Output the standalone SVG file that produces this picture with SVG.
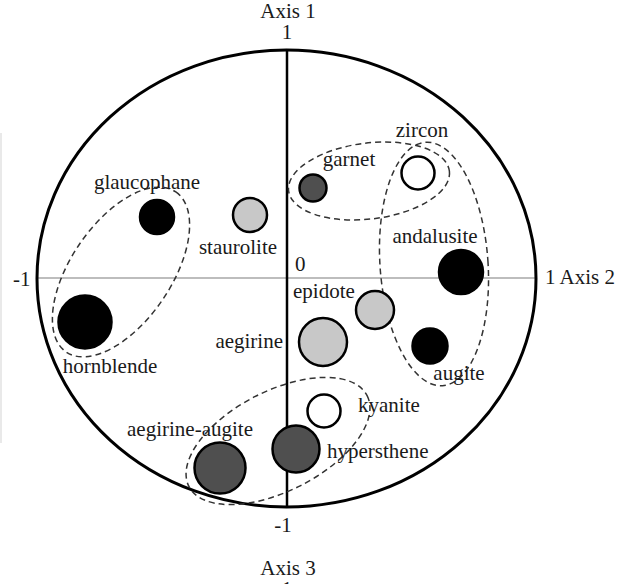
<svg xmlns="http://www.w3.org/2000/svg" width="618" height="584" viewBox="0 0 618 584">
<style>
text{font-family:"Liberation Serif","Times New Roman",serif;font-size:21px;fill:#1a1a1a}
.m{text-anchor:middle}
.e{text-anchor:end}
.n{stroke:#000;stroke-width:2.5}
.blk{fill:#000}
.dk{fill:#4f4f4f}
.lt{fill:#c8c8c8}
.wh{fill:#fff}
.cl{fill:none;stroke:#333;stroke-width:1.5;stroke-dasharray:6 4}
</style>
<rect width="618" height="584" fill="#fff"/>
<line x1="1" y1="133" x2="1" y2="443" stroke="#e2e2e2" stroke-width="1.5"/>
<g id="axes">
<line x1="37" y1="278" x2="536" y2="278" stroke="#bdbdbd" stroke-width="2.2"/>
<line x1="287" y1="50" x2="287" y2="507" stroke="#000" stroke-width="2.5"/>
<ellipse cx="286.5" cy="278.5" rx="249.5" ry="228.5" fill="none" stroke="#000" stroke-width="3"/>
<text x="288" y="18" class="m">Axis 1</text>
<text x="287" y="39" class="m">1</text>
<text x="13" y="286">-1</text>
<text x="545" y="284">1 Axis 2</text>
<text x="295" y="271">0</text>
<text x="283" y="532" class="m">-1</text>
<text x="288" y="575" class="m">Axis 3</text>
<text x="287" y="596" class="m">1</text>
</g>
<g id="connectors">
<ellipse class="cl" cx="121" cy="272" rx="97" ry="50" transform="rotate(-55.6 121 272)"/>
<ellipse class="cl" cx="369" cy="181" rx="81" ry="38" transform="rotate(-7 369 181)"/>
<ellipse class="cl" cx="434" cy="264" rx="54" ry="122" transform="rotate(-4 434 264)"/>
<ellipse class="cl" cx="278" cy="441" rx="100" ry="50" transform="rotate(-27 278 441)"/>
</g>
<g id="glaucophane"><circle class="n blk" cx="157" cy="217" r="17"/><text x="147" y="189" class="m">glaucophane</text></g>
<g id="staurolite"><circle class="n lt" cx="250" cy="215" r="17"/><text x="238" y="254" class="m">staurolite</text></g>
<g id="garnet"><circle class="n dk" cx="313" cy="188" r="13.5"/><text x="349" y="166" class="m">garnet</text></g>
<g id="zircon"><circle class="n wh" cx="418" cy="173" r="16.5"/><text x="422" y="137" class="m">zircon</text></g>
<g id="andalusite"><circle class="n blk" cx="461" cy="272" r="22"/><text x="435" y="243" class="m">andalusite</text></g>
<g id="hornblende"><circle class="n blk" cx="85" cy="322" r="26.5"/><text x="110" y="373" class="m">hornblende</text></g>
<g id="epidote"><circle class="n lt" cx="375" cy="310" r="19"/><text x="293" y="298">epidote</text></g>
<g id="aegirine"><circle class="n lt" cx="323" cy="342" r="24"/><text x="283" y="348" class="e">aegirine</text></g>
<g id="augite"><circle class="n blk" cx="430" cy="346" r="17.5"/><text x="459" y="380" class="m">augite</text></g>
<g id="kyanite"><circle class="n wh" cx="324" cy="411" r="16.5"/><text x="358" y="412">kyanite</text></g>
<g id="hypersthene"><circle class="n dk" cx="296" cy="449" r="23.5"/><text x="327" y="458">hypersthene</text></g>
<g id="aegirine-augite"><circle class="n dk" cx="220" cy="468" r="25.5"/><text x="190" y="436" class="m">aegirine-augite</text></g>
</svg>
